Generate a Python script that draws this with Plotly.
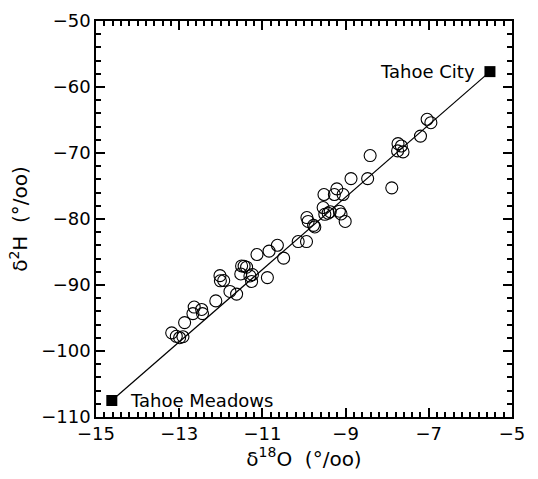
import plotly.graph_objects as go

# Sample isotope values (d18O, d2H)
d18O = [-13.18, -13.07, -12.99, -12.91, -12.87, -12.64, -12.67, -12.46, -12.44, -12.12,
        -11.78, -11.62, -12.02, -12.01, -11.93, -11.50, -11.44, -11.38, -11.52, -11.30,
        -11.24, -11.26, -11.13, -10.88, -10.84, -10.64, -10.49, -10.14, -9.94, -9.93,
        -9.90, -9.77, -9.74, -9.54, -9.50, -9.42, -9.37, -9.52, -9.27, -9.21,
        -9.06, -9.15, -9.11, -9.01, -8.87, -8.47, -8.41, -7.89, -7.74, -7.75,
        -7.62, -7.66, -7.20, -7.04, -6.95]
d2H = [-97.25, -97.77, -97.99, -97.84, -95.70, -93.34, -94.33, -93.71, -94.33, -92.41,
       -90.98, -91.38, -88.58, -89.36, -89.32, -87.11, -87.15, -87.30, -88.33, -88.63,
       -88.43, -89.47, -85.38, -88.88, -84.87, -83.98, -85.93, -83.42, -83.42, -79.78,
       -80.37, -80.96, -81.21, -78.26, -79.29, -79.12, -78.90, -76.29, -76.29, -75.43,
       -76.29, -78.82, -79.24, -80.37, -73.88, -73.88, -70.39, -75.28, -68.58, -69.68,
       -69.83, -68.94, -67.44, -64.89, -65.41]

# End members
end_names = ["Tahoe Meadows", "Tahoe City"]
end_d18O = [-14.62, -5.53]
end_d2H = [-107.5, -57.67]

x_tickvals = list(range(-15, -4, 2))
x_ticktext = [str(v).replace("-", "\u2212") for v in x_tickvals]
y_tickvals = list(range(-110, -49, 10))
y_ticktext = [str(v).replace("-", "\u2212") for v in y_tickvals]

fig = go.Figure()

fig.add_trace(go.Scatter(
    x=end_d18O, y=end_d2H, mode="lines",
    line=dict(color="black", width=1.2), hoverinfo="skip"))

fig.add_trace(go.Scatter(
    x=d18O, y=d2H, mode="markers",
    marker=dict(symbol="circle-open", size=12, color="black", line=dict(width=1.1))))

fig.add_trace(go.Scatter(
    x=end_d18O, y=end_d2H, mode="markers",
    marker=dict(symbol="square", size=11, color="black")))

font_family = "DejaVu Sans"

fig.add_annotation(x=end_d18O[0], y=end_d2H[0], text=end_names[0], showarrow=False,
                   xanchor="left", yanchor="middle", xshift=16,
                   font=dict(family=font_family, size=18, color="black"))
fig.add_annotation(x=end_d18O[1], y=end_d2H[1], text=end_names[1], showarrow=False,
                   xanchor="right", yanchor="middle", xshift=-13,
                   font=dict(family=font_family, size=18, color="black"))

axis_common = dict(
    showline=True, linecolor="black", linewidth=1.5, mirror="ticks",
    ticks="inside", ticklen=9, tickwidth=2, tickcolor="black",
    showgrid=False, zeroline=False, layer="above traces",
    tickfont=dict(family=font_family, size=18, color="black"),
)

fig.update_xaxes(
    range=[-15, -5], tickmode="array", tickvals=x_tickvals, ticktext=x_ticktext,
    minor=dict(dtick=0.2, ticklen=5, tickwidth=1.5, ticks="inside", tickcolor="black", showgrid=False),
    title=dict(text="δ<sup>18</sup>O  (°/oo)", font=dict(family=font_family, size=20, color="black"), standoff=6),
    **axis_common)
fig.update_yaxes(
    range=[-110, -50], tickmode="array", tickvals=y_tickvals, ticktext=y_ticktext,
    minor=dict(dtick=2, ticklen=5, tickwidth=1.5, ticks="inside", tickcolor="black", showgrid=False),
    title=dict(text="δ<sup>2</sup>H  (°/oo)", font=dict(family=font_family, size=20, color="black"), standoff=8),
    **axis_common)

fig.update_layout(
    template="simple_white",
    width=538, height=479,
    margin=dict(l=96, r=26, t=10, b=62),
    showlegend=False,
)

fig.write_html("out.html")
